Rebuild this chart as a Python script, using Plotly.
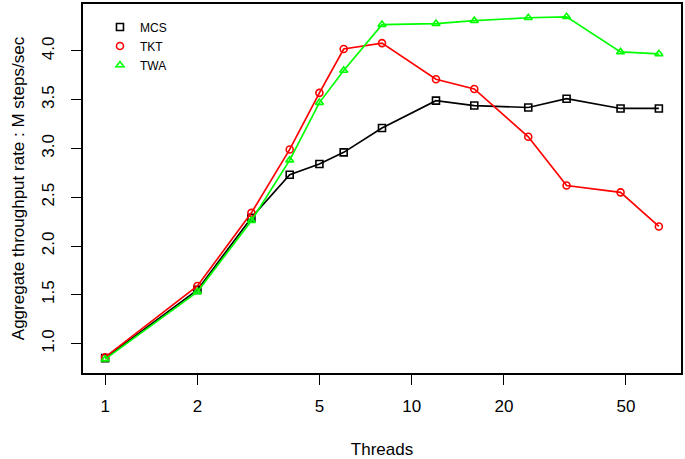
import plotly.graph_objects as go

threads = [1, 2, 3, 4, 5, 6, 8, 12, 16, 24, 32, 48, 64]
mcs = [0.85, 1.55, 2.29, 2.73, 2.84, 2.96, 3.21, 3.49, 3.44, 3.42, 3.51, 3.41, 3.41]
tkt = [0.86, 1.59, 2.34, 2.99, 3.57, 4.02, 4.08, 3.71, 3.61, 3.12, 2.62, 2.55, 2.20]
twa = [0.84, 1.53, 2.26, 2.88, 3.47, 3.80, 4.27, 4.28, 4.31, 4.34, 4.35, 3.99, 3.97]

series_names = ["MCS", "TKT", "TWA"]
series_vals = [mcs, tkt, twa]
series_colors = ["#000000", "#FF0000", "#00FF00"]
series_symbols = ["square-open", "circle-open", "triangle-up-open"]

x_ticks = [1, 2, 5, 10, 20, 50]
y_ticks = [1.0, 1.5, 2.0, 2.5, 3.0, 3.5, 4.0]

FONT = "Liberation Sans, Arial, Helvetica, sans-serif"

fig = go.Figure()
for name, vals, col, sym in zip(series_names, series_vals, series_colors, series_symbols):
    fig.add_trace(go.Scatter(
        x=threads, y=vals, mode="lines+markers", name=name,
        line=dict(color=col, width=1.7),
        marker=dict(symbol=sym, size=7, color=col, line=dict(width=1.6, color=col)),
        showlegend=False,
    ))
    fig.add_trace(go.Scatter(
        x=[None], y=[None], mode="markers", name=name,
        marker=dict(symbol=sym, size=7, color=col, line=dict(width=1.6, color=col)),
        showlegend=True,
    ))

fig.update_layout(
    width=685, height=459,
    margin=dict(l=83, r=4, t=4, b=86),
    paper_bgcolor="white", plot_bgcolor="white",
    font=dict(family=FONT, size=17, color="black"),
    showlegend=True,
    legend=dict(
        x=0.0284, y=0.977, xanchor="left", yanchor="top",
        bgcolor="rgba(0,0,0,0)", borderwidth=0,
        font=dict(size=12, family=FONT),
        itemwidth=30,
    ),
    xaxis=dict(
        type="log", range=[-0.0722, 1.8784],
        tickvals=x_ticks, ticktext=[str(v) for v in x_ticks],
        ticks="outside", ticklen=10, tickwidth=1.2, tickcolor="black",
        showline=True, linecolor="black", linewidth=1.6, mirror=True,
        showgrid=False, zeroline=False, automargin=False,
        ticklabelstandoff=7,
        title=dict(text="Threads", standoff=30, font=dict(size=17)),
    ),
    yaxis=dict(
        range=[0.698, 4.481],
        tickvals=y_ticks, ticktext=["%.1f" % v for v in y_ticks],
        tickangle=-90,
        ticks="outside", ticklen=10, tickwidth=1.2, tickcolor="black",
        showline=True, linecolor="black", linewidth=1.6, mirror=True,
        showgrid=False, zeroline=False, automargin=False,
        ticklabelstandoff=10,
        title=dict(text="Aggregate throughput rate : M steps/sec", standoff=10, font=dict(size=17)),
    ),
)

fig.write_html("out.html", config={"displayModeBar": False},
               post_script="document.body.style.margin='0px';")
